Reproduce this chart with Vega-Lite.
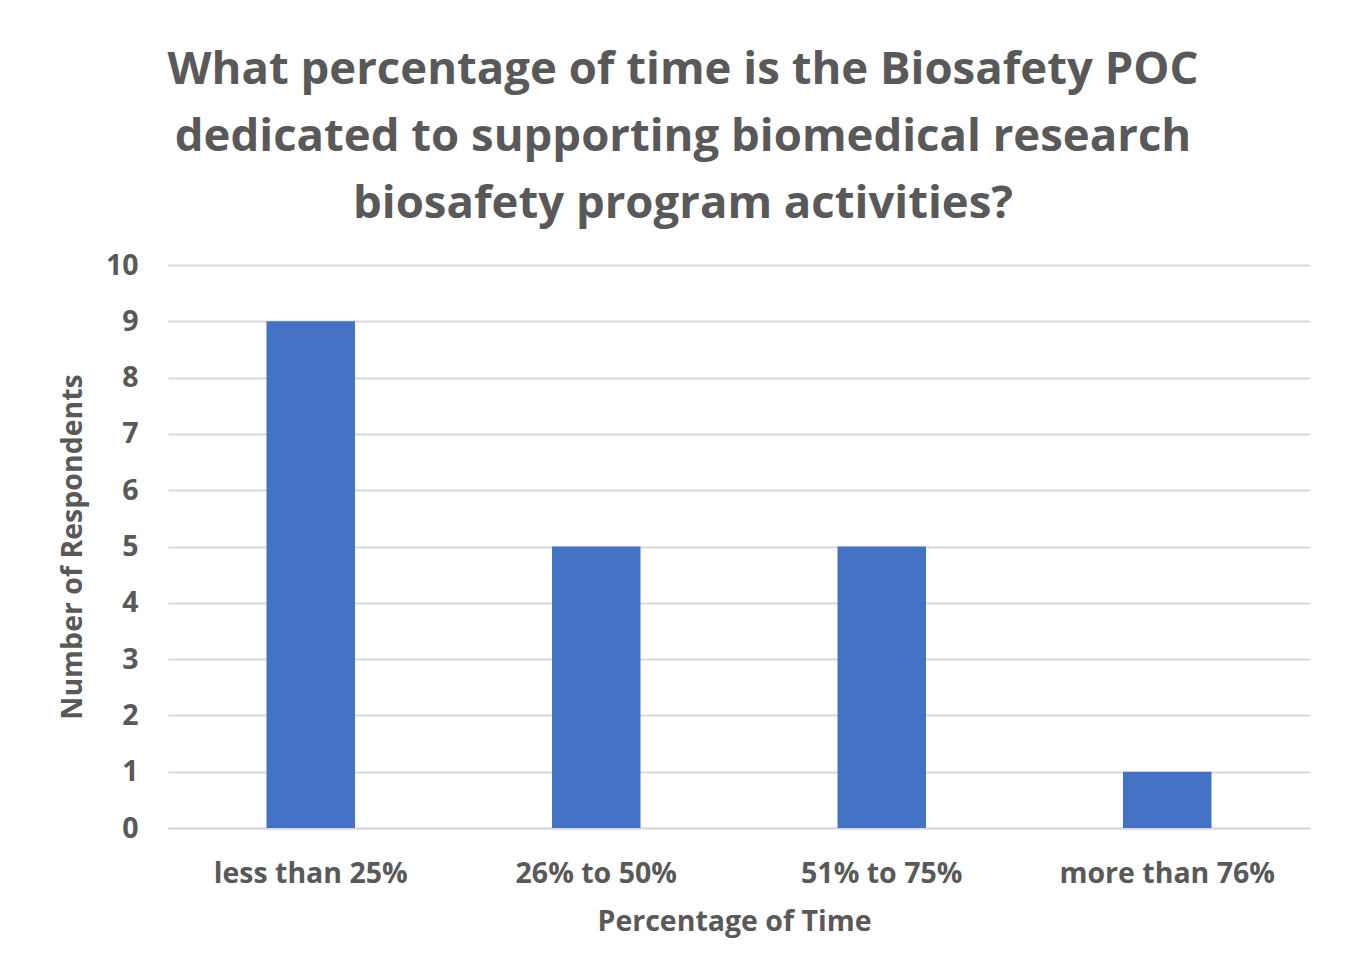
{
  "$schema": "https://vega.github.io/schema/vega-lite/v6.json",
  "autosize": "none",
  "width": 1142,
  "height": 563,
  "padding": {"left": 168, "top": 265, "right": 44, "bottom": 129},
  "background": "white",
  "title": {
    "text": ["What percentage of time is the Biosafety POC", "dedicated to supporting biomedical research", "biosafety program activities?"],
    "font": "Open Sans",
    "fontSize": 45.5,
    "fontWeight": "bold",
    "color": "#595959",
    "lineHeight": 67,
    "anchor": "middle",
    "dx": -56,
    "offset": 24
  },
  "data": {
    "values": [
      {"category": "less than 25%", "count": 9},
      {"category": "26% to 50%", "count": 5},
      {"category": "51% to 75%", "count": 5},
      {"category": "more than 76%", "count": 1}
    ]
  },
  "mark": {"type": "bar", "color": "#4472C4"},
  "encoding": {
    "x": {
      "field": "category",
      "type": "nominal",
      "sort": null,
      "scale": {"paddingInner": 0.69, "paddingOuter": 0.345},
      "axis": {
        "title": "Percentage of Time",
        "labelAngle": 0,
        "labelLimit": 0,
        "labelFont": "Open Sans",
        "labelFontSize": 28.5,
        "labelFontWeight": "bold",
        "labelColor": "#595959",
        "labelPadding": 31,
        "titleFont": "Open Sans",
        "titleFontSize": 28.5,
        "titleFontWeight": "bold",
        "titleColor": "#595959",
        "titlePadding": 20,
        "titleX": 566,
        "titleAlign": "center",
        "ticks": false,
        "domain": true,
        "domainColor": "#d9d9d9",
        "domainWidth": 2
      }
    },
    "y": {
      "field": "count",
      "type": "quantitative",
      "scale": {"domain": [0, 10]},
      "axis": {
        "title": "Number of Respondents",
        "values": [0, 1, 2, 3, 4, 5, 6, 7, 8, 9, 10],
        "labelFont": "Open Sans",
        "labelFontSize": 28.5,
        "labelFontWeight": "bold",
        "labelColor": "#595959",
        "labelPadding": 30,
        "titleFont": "Open Sans",
        "titleFontSize": 28.5,
        "titleFontWeight": "bold",
        "titleColor": "#595959",
        "titlePadding": 18,
        "ticks": false,
        "domain": false,
        "grid": true,
        "gridColor": "#d9d9d9",
        "gridWidth": 2
      }
    }
  },
  "config": {"view": {"stroke": null}}
}
